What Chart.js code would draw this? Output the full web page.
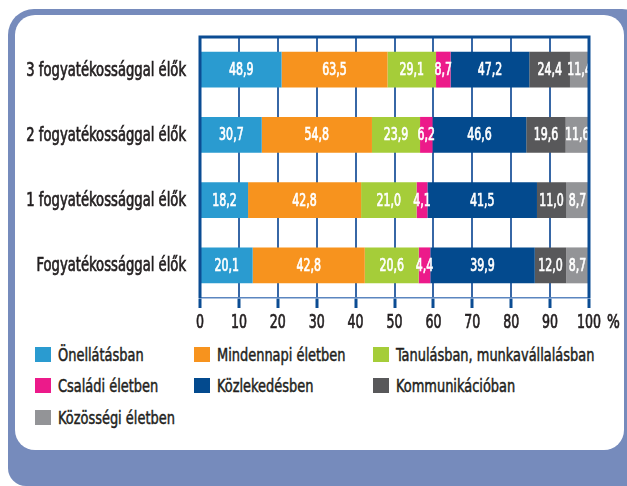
<!DOCTYPE html>
<html lang="hu">
<head>
<meta charset="utf-8">
<script src="https://cdn.jsdelivr.net/npm/chart.js@4.4.0/dist/chart.umd.min.js"></script>
<style>
  body { margin: 0; width: 627px; height: 486px; overflow: hidden; background: #fff; position: relative;
         font-family: 'DejaVu Sans Condensed', 'DejaVu Sans', sans-serif; }
  .frame { position: absolute; left: 8px; top: 9px; width: 640px; height: 477px; background: #768bbc;
           border-radius: 26px 26px 16px 18px; }
  .panel { position: absolute; left: 15px; top: 15px; width: 609px; height: 435px; background: #fff;
           border-radius: 20px; }
  #chart { position: absolute; left: 0; top: 0; }
  .item { position: absolute; height: 20px; line-height: 20px; padding-left: 23px; font-size: 18px;
          color: #231f20; white-space: nowrap; }
  .item i { position: absolute; left: 0; top: 2px; width: 16px; height: 15px; }
  .item span { display: inline-block; transform: scaleX(0.8); transform-origin: left center;
               -webkit-text-stroke: 0.5px #231f20; }
</style>
</head>
<body>
<div class="frame"></div>
<div class="panel"></div>
<canvas id="chart" width="627" height="340"></canvas>
<div id="legend"></div>
<script>
const categories = ['3 fogyatékossággal élők', '2 fogyatékossággal élők', '1 fogyatékossággal élők', 'Fogyatékossággal élők'];
const seriesNames = ['Önellátásban', 'Mindennapi életben', 'Tanulásban, munkavállalásban', 'Családi életben',
                     'Közlekedésben', 'Kommunikációban', 'Közösségi életben'];
const seriesColors = ['#2a9bd0', '#f7931e', '#a5cd39', '#ec1a8a', '#034a8e', '#58585a', '#939497'];

// raw values per series (top row first)
const onellatas    = [48.9, 30.7, 18.2, 20.1];
const mindennapi   = [63.5, 54.8, 42.8, 42.8];
const tanulas      = [29.1, 23.9, 21.0, 20.6];
const csaladi      = [8.7, 6.2, 4.1, 4.4];
const kozlekedes   = [47.2, 46.6, 41.5, 39.9];
const kommunikacio = [24.4, 19.6, 11.0, 12.0];
const kozossegi    = [11.4, 11.6, 8.7, 8.7];
const xTicks = [0, 10, 20, 30, 40, 50, 60, 70, 80, 90, 100];

const series = [onellatas, mindennapi, tanulas, csaladi, kozlekedes, kommunikacio, kozossegi];
const totals = categories.map((_, i) => series.reduce((s, arr) => s + arr[i], 0));

const dark = '#0b4c93';
const ink = '#231f20';
const fontFam = "'DejaVu Sans Condensed', 'DejaVu Sans', sans-serif";
const fmt = v => v.toFixed(1).replace('.', ',');

// the original uses a very narrow, fairly heavy face: squeeze and thicken a bit
function narrowText(ctx, str, x, y, align, size, sx, color) {
  ctx.save();
  ctx.translate(x, y);
  ctx.scale(sx, 1);
  ctx.font = size + 'px ' + fontFam;
  ctx.fillStyle = color;
  ctx.strokeStyle = color;
  ctx.lineWidth = 0.7;
  ctx.textAlign = align;
  ctx.textBaseline = 'middle';
  ctx.fillText(str, 0, 0);
  ctx.strokeText(str, 0, 0);
  ctx.restore();
}

// value labels inside the segments
const valueLabels = {
  id: 'valueLabels',
  afterDatasetsDraw(chart) {
    chart.data.datasets.forEach((ds, di) => {
      chart.getDatasetMeta(di).data.forEach((bar, i) => {
        narrowText(chart.ctx, fmt(ds.raw[i]), (bar.x + bar.base) / 2, bar.y + 1, 'center', 17, 0.72, '#fff');
      });
    });
  }
};

// plot frame and axis texts
const plotFrame = {
  id: 'plotFrame',
  afterDraw(chart) {
    const { ctx, chartArea: a, scales } = chart;
    ctx.save();
    ctx.strokeStyle = dark;
    ctx.lineWidth = 3;
    ctx.beginPath();
    ctx.moveTo(a.left, a.bottom);
    ctx.lineTo(a.left, a.top);
    ctx.lineTo(a.right, a.top);
    ctx.lineTo(a.right, a.bottom);
    ctx.stroke();
    ctx.restore();
    categories.forEach((c, i) => {
      narrowText(ctx, c, a.left - 14, scales.y.getPixelForValue(i) + 1, 'right', 19, 0.77, ink);
    });
    xTicks.forEach(v => {
      narrowText(ctx, String(v), scales.x.getPixelForValue(v), 323, 'center', 20, 0.7, ink);
    });
    narrowText(ctx, '%', scales.x.getPixelForValue(100) + 18, 323, 'left', 20, 0.75, ink);
  }
};

new Chart(document.getElementById('chart'), {
  type: 'bar',
  data: {
    labels: categories,
    datasets: series.map((arr, k) => ({
      label: seriesNames[k],
      raw: arr,
      data: arr.map((v, i) => v / totals[i] * 100),
      backgroundColor: seriesColors[k],
      borderWidth: 0,
      barPercentage: 0.55,
      categoryPercentage: 1
    }))
  },
  options: {
    indexAxis: 'y',
    responsive: false,
    animation: false,
    devicePixelRatio: 1,
    layout: { padding: { top: 37, right: 38, left: 0, bottom: 0 } },
    plugins: { legend: { display: false }, tooltip: { enabled: false } },
    scales: {
      x: {
        stacked: true,
        min: 0, max: 100,
        afterBuildTicks: s => { s.ticks = xTicks.map(v => ({ value: v })); },
        afterFit: s => { s.height = 42; },
        border: { color: '#5b86c0', width: 1.5 },
        grid: { color: '#3767a6', lineWidth: 2, tickColor: dark, tickWidth: 3, tickLength: 10 },
        ticks: { display: false }
      },
      y: {
        stacked: true,
        afterFit: s => { s.width = 200; },
        border: { display: false },
        grid: { display: false, drawTicks: false },
        ticks: { display: false }
      }
    }
  },
  plugins: [valueLabels, plotFrame]
});

// legend in three columns
const colX = [35, 194, 373];
const rowY = [355, 386, 418];
const legend = document.getElementById('legend');
seriesNames.forEach((name, k) => {
  const d = document.createElement('div');
  d.className = 'item';
  d.style.left = colX[k % 3] + 'px';
  d.style.top = (rowY[Math.floor(k / 3)] - 10) + 'px';
  d.innerHTML = '<i style="background:' + seriesColors[k] + '"></i><span>' + name + '</span>';
  legend.appendChild(d);
});
</script>
</body>
</html>
